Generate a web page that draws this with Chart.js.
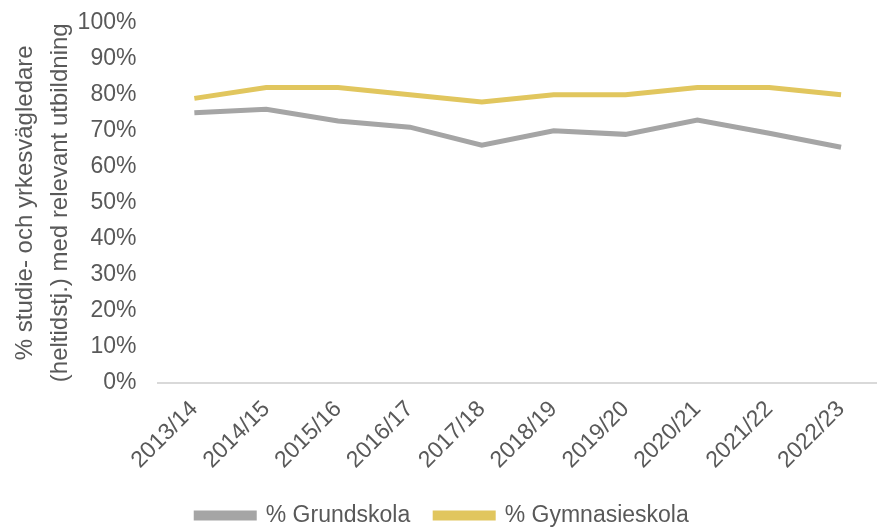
<!DOCTYPE html>
<html>
<head>
<meta charset="utf-8">
<script src="https://cdn.jsdelivr.net/npm/chart.js@4/dist/chart.umd.min.js"></script>
<style>
  html, body { margin: 0; padding: 0; background: #fff; }
  #wrap { width: 877px; height: 529px; }
</style>
</head>
<body>
<div id="wrap"><canvas id="lineChart"></canvas></div>
<script>
const years = ['2013/14', '2014/15', '2015/16', '2016/17', '2017/18', '2018/19', '2019/20', '2020/21', '2021/22', '2022/23'];
const grundskola = [75, 76, 72.7, 71, 66, 70, 69, 73, 69.3, 65.4];
const gymnasieskola = [79, 82, 82, 80, 78, 80, 80, 82, 82, 80];

const textColor = '#595959';
Chart.defaults.font.family = '"Liberation Sans", Arial, sans-serif';

const ctx = document.getElementById('lineChart').getContext('2d');
new Chart(ctx, {
  type: 'line',
  data: {
    labels: years,
    datasets: [{
      label: '% Grundskola',
      data: grundskola,
      borderColor: '#A5A5A5',
      backgroundColor: '#A5A5A5',
      borderWidth: 5,
      pointRadius: 0,
      tension: 0
    }, {
      label: '% Gymnasieskola',
      data: gymnasieskola,
      borderColor: '#E1C65E',
      backgroundColor: '#E1C65E',
      borderWidth: 5,
      pointRadius: 0,
      tension: 0
    }]
  },
  options: {
    responsive: true,
    maintainAspectRatio: false,
    animation: false,
    layout: { padding: { top: 0, right: 0, left: 8, bottom: -8 } },
    plugins: {
      legend: {
        position: 'bottom',
        labels: {
          color: textColor,
          font: { size: 23 },
          boxWidth: 58,
          boxHeight: 5,
          padding: 25
        }
      },
      tooltip: { enabled: false }
    },
    scales: {
      x: {
        offset: true,
        grid: { display: false },
        border: { color: '#D9D9D9', width: 2 },
        ticks: {
          color: textColor,
          font: { size: 23 },
          minRotation: 45,
          maxRotation: 45,
          autoSkip: false,
          padding: 5
        }
      },
      y: {
        min: 0,
        max: 100,
        grid: { display: false, drawTicks: true, tickLength: 13 },
        border: { display: false },
        ticks: {
          stepSize: 10,
          color: textColor,
          font: { size: 23 },
          padding: 9,
          callback: v => v + '%'
        },
        title: {
          display: true,
          text: ['% studie- och yrkesvägledare', '(heltidstj.) med relevant utbildning'],
          color: textColor,
          font: { size: 24, lineHeight: 1.45 },
          padding: { top: 0, bottom: -9 }
        }
      }
    }
  }
});
</script>
</body>
</html>
